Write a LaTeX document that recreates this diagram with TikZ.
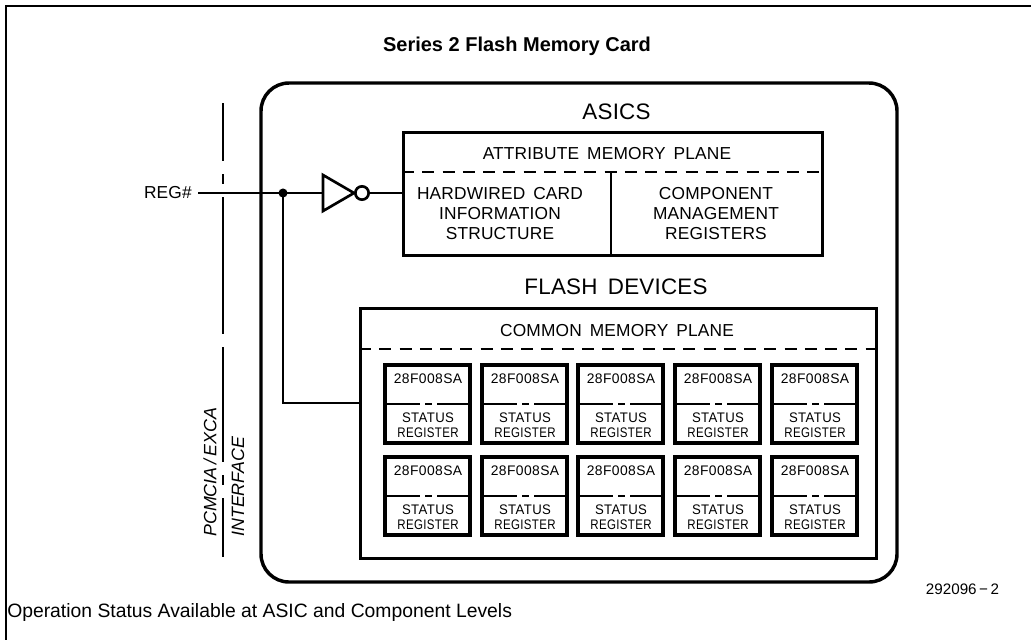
\documentclass[tikz,border=0pt]{standalone}
\usepackage{fontspec}
\setmainfont{Liberation Sans}
\newfontfamily\cad[LetterSpace=1,WordSpace=1.6]{Liberation Sans}
\newfontfamily\cadsmall[LetterSpace=3]{Liberation Sans}
\tikzset{
  heavy/.style={draw=black,line width=2.6pt},
  wire/.style={draw=black,line width=1.6pt},
  cadtext/.style={font=\cad\fontsize{13}{15}\selectfont,align=center,inner sep=0pt},
  headtext/.style={font=\cad\fontsize{16.8}{18}\selectfont,inner sep=0pt},
  chiptext/.style={font=\cadsmall\fontsize{10.4}{11.25}\selectfont,align=center,inner sep=0pt},
  plain/.style={inner sep=0pt,anchor=west,font=\fontsize{14.5}{17}\selectfont},
}
\newcommand{\chipcell}[3]{%
  \coordinate (#3tl) at (#1,#2);
  \coordinate (#3br) at (#1+85,#2+78);
  \draw[draw=black,line width=2.7pt] (#3tl) rectangle (#3br);
  \coordinate (#3ml) at (#1,#2+39);
  \coordinate (#3mr) at (#1+85,#2+39);
  \draw[line width=1.2pt] (#3ml) -- ++(35,0) ++(5,0) -- ++(7,0) ++(5,0) -- (#3mr);
  \node[chiptext] at (#1+43,#2+14) {28F008SA};
  \node[chiptext] at (#1+43,#2+60) {\scalebox{0.95}[1]{STATUS}\\\scalebox{0.83}[1]{REGISTER}};
}
\begin{document}
\begin{tikzpicture}[x=0.75pt,y=-0.75pt]
\useasboundingbox (0,0) rectangle (1031,640);
% frame
\coordinate (ftl) at (6,6);
\draw[line width=1.3pt] (1031,6) -- (ftl) -- (6,640);
% title
\node[font=\bfseries\fontsize{15}{17}\selectfont,inner sep=0pt] (title) at (517,46) {Series 2 Flash Memory Card};
\node[plain] (note) at (7,612) {Operation Status Available at ASIC and Component Levels};
\node[inner sep=0pt,font=\fontsize{11.4}{13}\selectfont] (num) at (962.5,589.5) {292096\,−\,2};
% interface line
\draw[wire] (223,103) -- (223,161) (223,174) -- (223,184) (223,197) -- (223,334) (223,347) -- (223,462) (223,475) -- (223,485) (223,498) -- (223,557);
\node[rotate=90,anchor=west,inner sep=0pt,font=\itshape\fontsize{13.4}{15}\selectfont] (pcm) at (210,537) {PCMCIA\,/\,EXCA};
\node[rotate=90,anchor=west,inner sep=0pt,font=\itshape\fontsize{13.4}{15}\selectfont] (intf) at (238,537) {INTERFACE};
% card
\draw[heavy,rounded corners=21pt] (261,83) rectangle (897,582);
\node[headtext] (asics) at (616.5,112) {ASICS};
\node[headtext] (flash) at (616,287) {FLASH DEVICES};
% asic box
\node[draw,line width=2.6pt,inner sep=0pt,anchor=north west,minimum width=314pt,minimum height=92pt] (abox) at (402,131) {};
\coordinate (adl) at (402,172);
\coordinate (adr) at (821,172);
\coordinate (adm) at (611,172);
\draw[line width=1.4pt,dash pattern=on 9pt off 6.2pt] (adl) -- (adr);
\draw[line width=1.2pt] (adm) -- (adm |- abox.south);
\node[cadtext] at (607,154) {ATTRIBUTE MEMORY PLANE};
\node[cadtext] at (500,214) {HARDWIRED CARD\\INFORMATION\\STRUCTURE};
\node[cadtext] at (716,214) {COMPONENT\\MANAGEMENT\\REGISTERS};
% flash box
\node[draw,line width=2.6pt,inner sep=0pt,anchor=north west,minimum width=387pt,minimum height=187.5pt] (fbox) at (359,307) {};
\coordinate (fdl) at (359,349);
\coordinate (fdr) at (875,349);
\draw[line width=1.4pt,dash pattern=on 9pt off 6.2pt] (fdl) -- (fdr);
\node[cadtext] at (617,331) {COMMON MEMORY PLANE};
\foreach \r/\y in {a/365,b/457}{
  \foreach \c/\x in {1/385,2/482,3/578,4/675,5/772}{
    \chipcell{\x}{\y}{c\r\c}
  }
}
% inverter
\coordinate (reg) at (198,193);
\node[anchor=east,inner sep=0pt,font=\cad\fontsize{13}{14}\selectfont] (reglabel) at (192,193) {REG\#};
\coordinate (junc) at (283,193);
\coordinate (itop) at (323,175);
\coordinate (ibot) at (323,211);
\coordinate (itip) at (354,193);
\draw[line width=2pt,line join=miter] (itop) -- (itip) -- (ibot) -- cycle;
\node[circle,draw,line width=2pt,minimum size=10pt,inner sep=0pt] (bub) at (362,193) {};
\fill (junc) circle[radius=3.4pt];
\draw[wire] (reg) -- (itop |- reg);
\draw[wire] (bub) -- (abox.west |- bub);
\draw[wire] (junc) |- (fbox.west |- 0,403);
\end{tikzpicture}
\end{document}
